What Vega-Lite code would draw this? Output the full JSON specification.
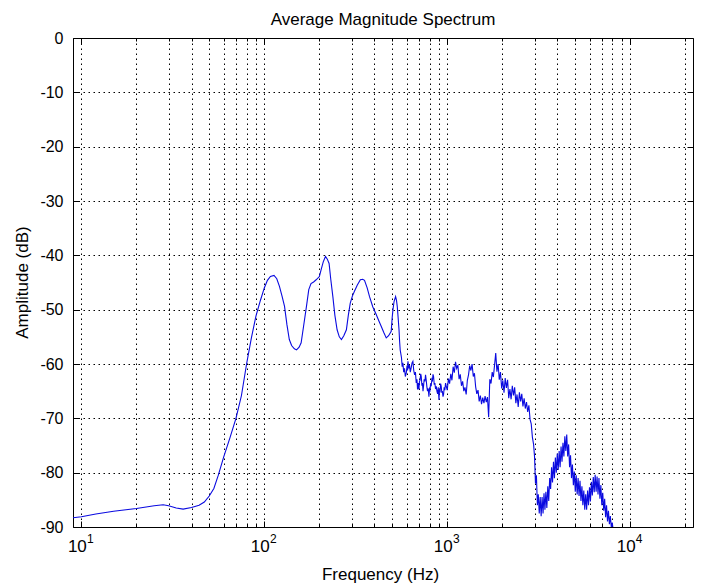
{
  "$schema": "https://vega.github.io/schema/vega-lite/v6.json",
  "width": 620,
  "height": 489,
  "autosize": "none",
  "padding": {"left": 73, "top": 38, "right": 13, "bottom": 60},
  "background": "white",
  "title": {"text": "Average Magnitude Spectrum", "font": "Liberation Sans", "fontSize": 17, "fontWeight": "normal", "color": "#000", "anchor": "middle", "frame": "group", "offset": 12, "dy": 24, "baseline": "alphabetic"},
  "config": {"view": {"stroke": "#000", "strokeWidth": 1}},
  "datasets": {
    "spec": [
      {"f":9,"db":-88.3},{"f":10,"db":-88.1},{"f":12,"db":-87.6},{"f":15,"db":-87.1},{"f":20,"db":-86.6},{"f":25,"db":-86.1},{"f":28,"db":-85.9},{"f":30,"db":-86.1},{"f":33,"db":-86.5},{"f":36,"db":-86.7},{"f":40,"db":-86.4},{"f":44,"db":-86.0},{"f":47,"db":-85.4},{"f":50,"db":-84.3},{"f":53,"db":-82.9},{"f":56,"db":-80.5},{"f":60,"db":-77.1},{"f":65,"db":-73.5},{"f":70,"db":-70.0},{"f":75,"db":-65.8},{"f":80,"db":-60.0},{"f":85,"db":-55.2},{"f":90,"db":-51.2},{"f":95,"db":-48.4},{"f":100,"db":-46.0},{"f":104,"db":-44.6},{"f":108,"db":-43.9},{"f":113,"db":-43.7},{"f":117,"db":-44.3},{"f":121,"db":-45.7},{"f":125,"db":-47.5},{"f":129,"db":-49.4},{"f":133,"db":-52.8},{"f":137,"db":-55.5},{"f":141,"db":-56.6},{"f":146,"db":-57.2},{"f":150,"db":-57.4},{"f":155,"db":-56.9},{"f":159,"db":-56.1},{"f":164,"db":-53.0},{"f":170,"db":-49.4},{"f":175,"db":-46.3},{"f":180,"db":-45.2},{"f":186,"db":-44.9},{"f":192,"db":-44.5},{"f":200,"db":-43.9},{"f":205,"db":-42.5},{"f":210,"db":-41.2},{"f":216,"db":-40.2},{"f":221,"db":-40.7},{"f":226,"db":-41.5},{"f":231,"db":-44.5},{"f":237,"db":-47.6},{"f":243,"db":-51.0},{"f":250,"db":-53.7},{"f":257,"db":-55.0},{"f":264,"db":-55.5},{"f":272,"db":-54.8},{"f":281,"db":-53.7},{"f":288,"db":-51.0},{"f":295,"db":-48.8},{"f":303,"db":-47.5},{"f":311,"db":-46.6},{"f":322,"db":-45.5},{"f":335,"db":-44.5},{"f":345,"db":-44.4},{"f":353,"db":-44.6},{"f":365,"db":-46.0},{"f":376,"db":-47.6},{"f":392,"db":-49.5},{"f":409,"db":-50.9},{"f":422,"db":-52.0},{"f":436,"db":-53.1},{"f":450,"db":-54.2},{"f":464,"db":-55.2},{"f":478,"db":-54.8},{"f":494,"db":-54.0},{"f":500,"db":-51.5},{"f":505,"db":-50.0},{"f":512,"db":-48.5},{"f":522,"db":-47.6},{"f":528,"db":-48.3},{"f":533,"db":-49.4},{"f":539,"db":-51.5},{"f":545,"db":-53.7},{"f":549,"db":-55.8},{"f":553,"db":-57.4},
      {"f":562,"db":-58.8},{"f":567,"db":-60.5},{"f":572,"db":-59.8},{"f":578,"db":-61.5},{"f":584,"db":-60.8},{"f":590,"db":-62.3},{"f":597,"db":-61.7},{"f":603,"db":-60.3},{"f":607,"db":-61.2},{"f":610,"db":-59.5},{"f":616,"db":-60.8},{"f":622,"db":-60.2},{"f":628,"db":-61.5},{"f":635,"db":-60.7},{"f":642,"db":-59.8},{"f":649,"db":-59.5},{"f":656,"db":-61.2},{"f":663,"db":-62.0},{"f":670,"db":-61.5},{"f":677,"db":-63.5},{"f":683,"db":-62.8},{"f":688,"db":-64.7},{"f":694,"db":-63.5},{"f":700,"db":-64.7},{"f":705,"db":-63.2},{"f":710,"db":-63.0},{"f":716,"db":-61.8},{"f":721,"db":-62.3},{"f":727,"db":-64.0},{"f":732,"db":-63.5},{"f":737,"db":-65.0},{"f":742,"db":-64.1},{"f":748,"db":-62.8},{"f":755,"db":-63.2},{"f":761,"db":-62.0},{"f":767,"db":-62.9},{"f":774,"db":-64.2},{"f":780,"db":-65.0},{"f":787,"db":-64.5},{"f":794,"db":-66.0},{"f":800,"db":-64.6},{"f":805,"db":-64.8},{"f":811,"db":-63.6},{"f":817,"db":-64.1},{"f":824,"db":-62.8},{"f":830,"db":-63.0},{"f":836,"db":-61.9},{"f":842,"db":-62.3},{"f":849,"db":-63.8},{"f":856,"db":-63.5},{"f":863,"db":-64.6},{"f":871,"db":-64.1},{"f":878,"db":-65.0},{"f":886,"db":-65.5},{"f":893,"db":-64.3},{"f":901,"db":-66.6},{"f":907,"db":-64.8},{"f":914,"db":-65.0},{"f":920,"db":-63.6},{"f":927,"db":-64.1},{"f":934,"db":-65.3},{"f":940,"db":-65.0},{"f":948,"db":-66.0},{"f":955,"db":-65.6},{"f":962,"db":-64.3},{"f":970,"db":-64.8},{"f":979,"db":-63.5},{"f":988,"db":-64.1},
      {"f":1000,"db":-64.8},{"f":1015,"db":-62.7},{"f":1030,"db":-63.6},{"f":1046,"db":-61.8},{"f":1061,"db":-63.0},{"f":1077,"db":-60.5},{"f":1093,"db":-61.6},{"f":1110,"db":-59.6},{"f":1126,"db":-60.8},{"f":1143,"db":-60.2},{"f":1161,"db":-62.8},{"f":1178,"db":-61.9},{"f":1196,"db":-64.0},{"f":1214,"db":-63.2},{"f":1232,"db":-65.0},{"f":1250,"db":-64.3},{"f":1269,"db":-65.6},{"f":1288,"db":-63.0},{"f":1307,"db":-62.0},{"f":1327,"db":-60.3},{"f":1347,"db":-61.2},{"f":1367,"db":-60.0},{"f":1388,"db":-62.3},{"f":1408,"db":-61.7},{"f":1430,"db":-64.2},{"f":1451,"db":-65.5},{"f":1473,"db":-64.8},{"f":1495,"db":-66.9},{"f":1517,"db":-65.8},{"f":1540,"db":-67.4},{"f":1563,"db":-66.2},{"f":1587,"db":-67.2},{"f":1610,"db":-65.9},{"f":1635,"db":-67.0},{"f":1659,"db":-66.1},{"f":1684,"db":-69.8},{"f":1709,"db":-62.8},{"f":1735,"db":-63.6},{"f":1761,"db":-61.5},{"f":1787,"db":-62.4},{"f":1814,"db":-60.2},{"f":1841,"db":-58.0},{"f":1869,"db":-61.4},{"f":1897,"db":-60.0},{"f":1925,"db":-62.9},{"f":1954,"db":-61.5},{"f":1984,"db":-64.5},{"f":2013,"db":-63.0},{"f":2043,"db":-65.3},{"f":2074,"db":-62.6},{"f":2105,"db":-64.4},{"f":2137,"db":-62.9},{"f":2169,"db":-66.3},{"f":2201,"db":-64.6},{"f":2234,"db":-66.5},{"f":2268,"db":-64.0},{"f":2302,"db":-65.8},{"f":2336,"db":-64.3},{"f":2372,"db":-67.2},{"f":2407,"db":-65.6},{"f":2443,"db":-67.9},{"f":2480,"db":-65.2},{"f":2517,"db":-66.9},{"f":2555,"db":-65.5},{"f":2593,"db":-67.8},{"f":2632,"db":-66.3},{"f":2672,"db":-68.2},{"f":2712,"db":-67.0},{"f":2752,"db":-68.8},{"f":2794,"db":-67.6},{"f":2836,"db":-70.2},{"f":2878,"db":-71.0},{"f":2921,"db":-73.5},{"f":2965,"db":-74.8},
      {"f":3000,"db":-77.0},{"f":3036,"db":-82.0},{"f":3072,"db":-80.5},{"f":3109,"db":-86.0},{"f":3146,"db":-84.0},{"f":3184,"db":-87.5},{"f":3222,"db":-84.5},{"f":3261,"db":-88.0},{"f":3300,"db":-84.5},{"f":3340,"db":-87.5},{"f":3380,"db":-83.8},{"f":3420,"db":-86.8},{"f":3461,"db":-83.5},{"f":3503,"db":-86.5},{"f":3545,"db":-82.5},{"f":3588,"db":-85.2},{"f":3631,"db":-81.0},{"f":3674,"db":-83.0},{"f":3718,"db":-79.0},{"f":3763,"db":-81.8},{"f":3808,"db":-78.0},{"f":3854,"db":-81.0},{"f":3900,"db":-77.2},{"f":3947,"db":-80.0},{"f":3994,"db":-76.5},{"f":4042,"db":-79.5},{"f":4091,"db":-76.0},{"f":4140,"db":-79.0},{"f":4190,"db":-75.2},{"f":4240,"db":-78.0},{"f":4291,"db":-74.5},{"f":4342,"db":-77.0},{"f":4394,"db":-73.3},{"f":4447,"db":-76.0},{"f":4500,"db":-73.0},{"f":4554,"db":-77.0},{"f":4609,"db":-74.8},{"f":4664,"db":-79.0},{"f":4720,"db":-76.8},{"f":4777,"db":-81.0},{"f":4834,"db":-78.5},{"f":4892,"db":-82.3},{"f":4951,"db":-79.8},{"f":5010,"db":-83.5},{"f":5070,"db":-80.5},{"f":5131,"db":-84.0},{"f":5193,"db":-81.0},{"f":5255,"db":-84.3},{"f":5318,"db":-81.5},{"f":5382,"db":-85.2},{"f":5447,"db":-82.5},{"f":5512,"db":-86.0},{"f":5578,"db":-83.3},{"f":5645,"db":-86.8},{"f":5713,"db":-84.0},{"f":5781,"db":-86.8},{"f":5851,"db":-83.3},{"f":5921,"db":-86.0},{"f":5992,"db":-82.7},{"f":6064,"db":-85.3},{"f":6137,"db":-81.7},{"f":6210,"db":-84.2},{"f":6285,"db":-80.8},{"f":6360,"db":-83.6},{"f":6436,"db":-80.4},{"f":6514,"db":-83.5},{"f":6592,"db":-80.7},{"f":6671,"db":-84.0},{"f":6751,"db":-81.0},{"f":6832,"db":-84.8},{"f":6914,"db":-82.3},{"f":6997,"db":-86.0},{"f":7081,"db":-83.7},{"f":7166,"db":-87.0},{"f":7252,"db":-84.8},{"f":7339,"db":-88.2},{"f":7427,"db":-86.0},{"f":7516,"db":-89.0},{"f":7607,"db":-87.0},{"f":7698,"db":-89.5},{"f":7790,"db":-88.0},{"f":7884,"db":-90.0},{"f":7978,"db":-89.2},{"f":8074,"db":-90.5},{"f":8171,"db":-91.5}
    ],
    "decades": [
      {"f":10,"exp":"1"},{"f":100,"exp":"2"},{"f":1000,"exp":"3"},{"f":10000,"exp":"4"}
    ]
  },
  "layer": [
    {
      "data": {"name": "spec"},
      "mark": {"type": "line", "color": "#0a0ae0", "strokeWidth": 1.1, "clip": true},
      "encoding": {
        "x": {
          "field": "f", "type": "quantitative",
          "scale": {"type": "log", "domain": [9, 22050], "nice": false},
          "axis": {
            "orient": "bottom",
            "values": [10,20,30,40,50,60,70,80,90,100,200,300,400,500,600,700,800,900,1000,2000,3000,4000,5000,6000,7000,8000,9000,10000,20000],
            "labels": false, "domain": false,
            "grid": true, "gridColor": "#000", "gridDash": [1.5, 3.5], "gridWidth": 1,
            "ticks": true, "tickColor": "#000",
            "tickSize": {"condition": {"test": "indexof([10,100,1000,10000], datum.value) >= 0", "value": -6}, "value": -3},
            "title": "Frequency (Hz)", "titleFont": "Liberation Sans", "titleFontSize": 17, "titleFontWeight": "normal", "titleColor": "#000",
            "titleX": 307, "titleY": 52, "titleBaseline": "alphabetic", "titleAlign": "center", "titleAnchor": null
          }
        },
        "y": {
          "field": "db", "type": "quantitative",
          "scale": {"domain": [-90, 0], "nice": false, "zero": false},
          "axis": {
            "orient": "left",
            "values": [-90,-80,-70,-60,-50,-40,-30,-20,-10,0],
            "labelExpr": "'' + datum.value",
            "labelFont": "Liberation Sans", "labelFontSize": 16, "labelColor": "#000", "labelPadding": 16, "labelBaseline": "middle",
            "domain": false,
            "grid": true, "gridColor": "#000", "gridDash": [1.5, 3.5], "gridWidth": 1,
            "ticks": true, "tickColor": "#000", "tickSize": -6,
            "title": "Amplitude (dB)", "titleFont": "Liberation Sans", "titleFontSize": 17, "titleFontWeight": "normal", "titleColor": "#000",
            "titleX": -46, "titleY": 244, "titleAngle": -90, "titleBaseline": "alphabetic", "titleAlign": "center", "titleAnchor": null
          }
        }
      }
    },
    {
      "data": {"name": "decades"},
      "mark": {"type": "text", "text": "10", "font": "Liberation Sans", "fontSize": 17, "color": "#000", "align": "center", "baseline": "alphabetic", "dx": -4, "dy": 25},
      "encoding": {
        "x": {
          "field": "f", "type": "quantitative",
          "scale": {"type": "log", "domain": [9, 22050], "nice": false},
          "axis": {
            "orient": "top",
            "values": [10,20,30,40,50,60,70,80,90,100,200,300,400,500,600,700,800,900,1000,2000,3000,4000,5000,6000,7000,8000,9000,10000,20000],
            "labels": false, "domain": false, "grid": false, "title": null,
            "ticks": true, "tickColor": "#000",
            "tickSize": {"condition": {"test": "indexof([10,100,1000,10000], datum.value) >= 0", "value": -6}, "value": -3}
          }
        },
        "y": {
          "datum": -90, "type": "quantitative",
          "scale": {"domain": [-90, 0], "nice": false, "zero": false},
          "axis": {
            "orient": "right",
            "values": [-90,-80,-70,-60,-50,-40,-30,-20,-10,0],
            "labels": false, "domain": false, "grid": false, "title": null,
            "ticks": true, "tickColor": "#000", "tickSize": -6
          }
        }
      }
    },
    {
      "data": {"name": "decades"},
      "mark": {"type": "text", "font": "Liberation Sans", "fontSize": 12, "color": "#000", "align": "center", "baseline": "alphabetic", "dx": 9, "dy": 16},
      "encoding": {
        "x": {"field": "f", "type": "quantitative", "scale": {"type": "log", "domain": [9, 22050], "nice": false}, "axis": null},
        "y": {"datum": -90, "type": "quantitative", "scale": {"domain": [-90, 0], "nice": false, "zero": false}, "axis": null},
        "text": {"field": "exp"}
      }
    }
  ],
  "resolve": {"axis": {"x": "independent", "y": "independent"}}
}
